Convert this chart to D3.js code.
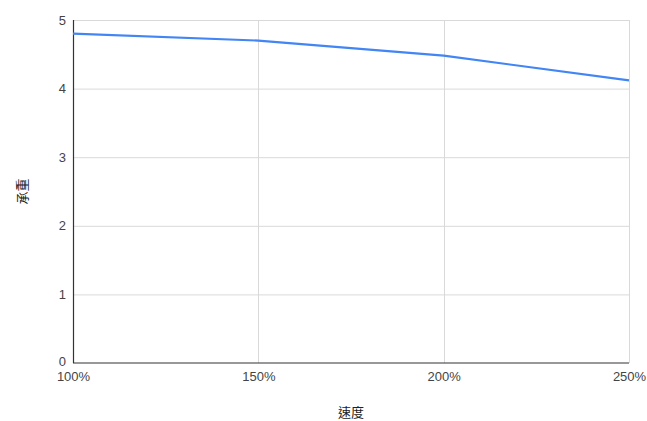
<!DOCTYPE html>
<html>
<head>
<meta charset="utf-8">
<script src="https://cdn.jsdelivr.net/npm/d3@7"></script>
<style>
  html, body { margin: 0; padding: 0; background: #fff; }
  svg { display: block; font-family: "Liberation Sans", Arial, sans-serif; }
</style>
</head>
<body>
<svg id="chart" width="647" height="421"></svg>
<script>
// Speed (as a percentage) against load
const speeds = [100, 150, 200, 250];
const loads = [4.8, 4.7, 4.48, 4.12];
const yTicks = [0, 1, 2, 3, 4, 5];
const xTitle = "速度";
const yTitle = "承重";

const margin = { left: 73, right: 18, top: 20, bottom: 58 };
const W = 647, H = 421;
const svg = d3.select("#chart");

const x = d3.scaleLinear().domain([100, 250]).range([margin.left, W - margin.right]);
const y = d3.scaleLinear().domain([0, 5]).range([H - margin.bottom, margin.top]);

const tickFont = "'Liberation Sans', Arial, sans-serif";

// horizontal grid
svg.append("g")
  .selectAll("line")
  .data(yTicks.filter(d => d > 0))
  .join("line")
  .attr("x1", margin.left).attr("x2", W - margin.right)
  .attr("y1", d => y(d) + 0.5).attr("y2", d => y(d) + 0.5)
  .attr("stroke", "#d9d9d9").attr("stroke-width", 1);

// vertical grid
svg.append("g")
  .selectAll("line")
  .data(speeds.slice(1))
  .join("line")
  .attr("x1", d => Math.round(x(d)) + 0.5).attr("x2", d => Math.round(x(d)) + 0.5)
  .attr("y1", y(5)).attr("y2", y(0))
  .attr("stroke", "#d9d9d9").attr("stroke-width", 1);

// y tick labels
const yAxis = d3.axisLeft(y).tickValues(yTicks).tickSize(0).tickPadding(7).tickFormat(d3.format("d"));
const gy = svg.append("g").attr("transform", `translate(${margin.left},0)`).call(yAxis);
gy.select(".domain").remove();
gy.selectAll("text").attr("font-size", 13).attr("fill", "#444").attr("font-family", tickFont);
// keep the bottom "0" clear of the first x label
gy.selectAll("text").filter(d => d === 0).attr("dy", "0.2em");

// x tick labels
const xAxis = d3.axisBottom(x).tickValues(speeds).tickSize(0).tickPadding(9).tickFormat(d => d + "%");
const gx = svg.append("g").attr("transform", `translate(0,${y(0)})`).call(xAxis);
gx.select(".domain").remove();
gx.selectAll("text").attr("font-size", 13).attr("fill", "#444").attr("font-family", tickFont);

// axis baselines
svg.append("line")
  .attr("x1", margin.left).attr("x2", W - margin.right)
  .attr("y1", y(0)).attr("y2", y(0))
  .attr("stroke", "#333").attr("stroke-width", 1.2);
svg.append("line")
  .attr("x1", margin.left + 0.5).attr("x2", margin.left + 0.5)
  .attr("y1", y(5)).attr("y2", y(0))
  .attr("stroke", "#333").attr("stroke-width", 1.2);

// data line
const line = d3.line().x((d, i) => x(speeds[i])).y(d => y(d));
svg.append("path")
  .datum(loads)
  .attr("d", line)
  .attr("fill", "none")
  .attr("stroke", "#4285f4")
  .attr("stroke-width", 2.2)
  .attr("stroke-linejoin", "round");

// axis titles
svg.append("text")
  .attr("x", (margin.left + W - margin.right) / 2)
  .attr("y", 417)
  .attr("text-anchor", "middle")
  .attr("font-size", 13)
  .attr("fill", "#222")
  .attr("font-family", "'Noto Sans CJK TC', 'Noto Sans CJK SC', sans-serif")
  .text(xTitle);

svg.append("text")
  .attr("transform", `translate(27,${(y(0) + y(5)) / 2}) rotate(-90)`)
  .attr("text-anchor", "middle")
  .attr("font-size", 13)
  .attr("fill", "#222")
  .attr("font-family", "'Noto Sans CJK TC', 'Noto Sans CJK SC', sans-serif")
  .text(yTitle);
</script>
</body>
</html>
